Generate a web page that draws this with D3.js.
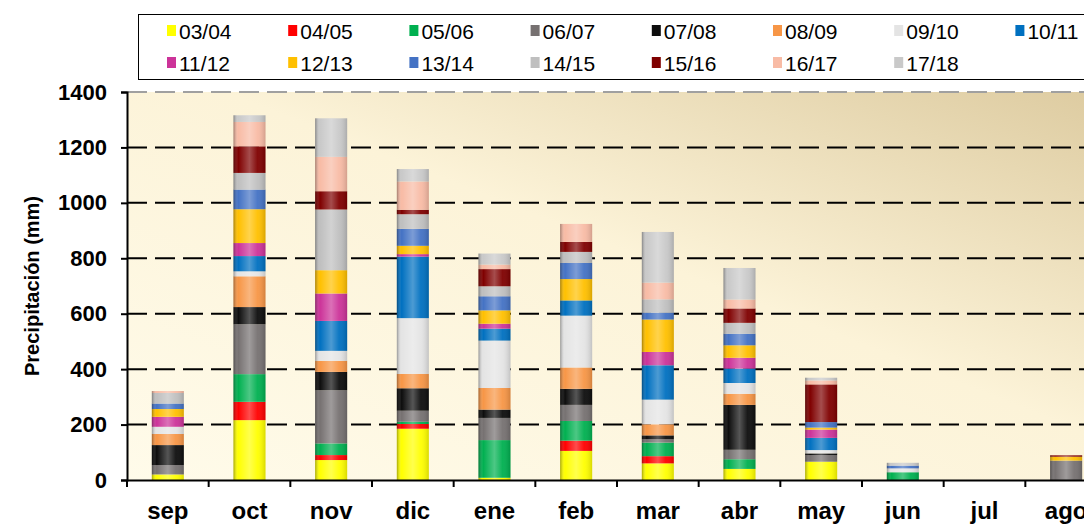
<!DOCTYPE html>
<html>
<head>
<meta charset="utf-8">
<script src="https://cdn.jsdelivr.net/npm/d3@7"></script>
<style>
body { margin: 0; background: #FFFFFF; }
svg { display: block; font-family: "Liberation Sans", Arial, sans-serif; }
</style>
</head>
<body>
<div id="vis_container"></div>
<script>
// months (x categories)
var months = ["sep", "oct", "nov", "dic", "ene", "feb", "mar", "abr", "may", "jun", "jul", "ago"];

// hydrological years (stack series, bottom to top)
var seasons = ["03/04", "04/05", "05/06", "06/07", "07/08", "08/09", "09/10", "10/11",
	"11/12", "12/13", "13/14", "14/15", "15/16", "16/17", "17/18"];

var seasonColors = ["#FFFF00", "#FF0000", "#00B050", "#767171", "#0D0D0D", "#F79646", "#E4E4E4", "#0070C0",
	"#CC3399", "#FFC000", "#4472C4", "#BFBFBF", "#7F0000", "#F8BBA5", "#C9C9C9"];

// precipitation (mm) per season, one value per month sep..ago
var p0304 = [20, 216, 72, 185, 8, 105, 60, 40, 66, 0, 0, 0];
var p0405 = [0, 66, 18, 17, 0, 37, 26, 0, 0, 0, 0, 0];
var p0506 = [0, 100, 42, 8, 136, 71, 49, 35, 0, 28, 0, 0];
var p0607 = [34, 180, 192, 40, 80, 58, 12, 34, 24, 0, 0, 70];
var p0708 = [72, 62, 66, 81, 30, 58, 14, 162, 6, 0, 0, 0];
var p0809 = [40, 111, 40, 52, 78, 77, 40, 40, 0, 0, 0, 0];
var p0910 = [26, 18, 36, 201, 171, 187, 89, 39, 12, 14, 0, 0];
var p1011 = [0, 55, 108, 222, 43, 55, 124, 52, 44, 0, 0, 0];
var p1112 = [36, 47, 99, 9, 18, 0, 48, 39, 30, 0, 0, 0];
var p1213 = [28, 122, 84, 30, 48, 77, 117, 45, 7, 0, 0, 14];
var p1314 = [20, 71, 0, 61, 51, 58, 25, 42, 20, 10, 0, 0];
var p1415 = [38, 60, 219, 53, 36, 40, 48, 39, 0, 0, 0, 0];
var p1516 = [0, 96, 66, 16, 62, 36, 0, 52, 136, 0, 0, 5];
var p1617 = [7, 88, 124, 102, 16, 65, 60, 32, 14, 0, 0, 0];
var p1718 = [0, 24, 139, 45, 40, 0, 183, 114, 10, 10, 0, 0];

var seriesValues = [p0304, p0405, p0506, p0607, p0708, p0809, p0910, p1011,
	p1112, p1213, p1314, p1415, p1516, p1617, p1718];

var yTicks = [0, 200, 400, 600, 800, 1000, 1200, 1400];

var chart = {};
chart.width = 1084;
chart.height = 527;
chart.margin = {"top": 92, "left": 127, "bottom": 47};
chart.plotRight = 1107;

// table for d3.stack
var table = months.map(function(m, i) {
	var row = {month: m};
	seasons.forEach(function(s, j) { row[s] = seriesValues[j][i]; });
	return row;
});

var stacked = d3.stack().keys(seasons)(table);

chart.x = d3.scaleBand()
	.domain(months)
	.range([chart.margin.left, chart.plotRight]);

chart.y = d3.scaleLinear()
	.domain([0, 1400])
	.range([chart.height - chart.margin.bottom, chart.margin.top]);

chart.color = d3.scaleOrdinal().domain(seasons).range(seasonColors);

chart.svg = d3.select("#vis_container").append("svg")
	.attr("width", chart.width)
	.attr("height", chart.height);

var defs = chart.svg.append("defs");

var bg = defs.append("linearGradient")
	.attr("id", "plotBg")
	.attr("x1", 0).attr("y1", 1).attr("x2", 1).attr("y2", 0);
bg.append("stop").attr("offset", "0").attr("stop-color", "#FFFBEA");
bg.append("stop").attr("offset", "0.55").attr("stop-color", "#FCF3D8");
bg.append("stop").attr("offset", "1").attr("stop-color", "#DDCBA0");

// cylinder shading laid over each bar
var shade = defs.append("linearGradient")
	.attr("id", "barShade")
	.attr("x1", 0).attr("y1", 0).attr("x2", 1).attr("y2", 0);
shade.append("stop").attr("offset", "0").attr("stop-color", "#000").attr("stop-opacity", 0.35);
shade.append("stop").attr("offset", "0.15").attr("stop-color", "#fff").attr("stop-opacity", 0);
shade.append("stop").attr("offset", "0.5").attr("stop-color", "#fff").attr("stop-opacity", 0.3);
shade.append("stop").attr("offset", "0.75").attr("stop-color", "#fff").attr("stop-opacity", 0.05);
shade.append("stop").attr("offset", "1").attr("stop-color", "#000").attr("stop-opacity", 0.15);

// plot background
chart.svg.append("rect")
	.attr("x", chart.margin.left)
	.attr("y", chart.y(1400))
	.attr("width", chart.plotRight - chart.margin.left)
	.attr("height", chart.y(0) - chart.y(1400))
	.attr("fill", "url(#plotBg)");

// gridlines
chart.svg.append("g")
	.selectAll("line")
	.data(yTicks.filter(function(d) { return d > 0; }))
	.enter().append("line")
	.attr("x1", chart.margin.left)
	.attr("x2", chart.plotRight)
	.attr("y1", function(d) { return chart.y(d); })
	.attr("y2", function(d) { return chart.y(d); })
	.attr("stroke", function(d) { return d == 1400 ? "#A0A0A0" : "#000"; })
	.attr("stroke-width", 2)
	.attr("stroke-dasharray", "20,8");

var barW = 32;

var layer = chart.svg.append("g")
	.selectAll("g")
	.data(stacked)
	.enter().append("g")
	.attr("fill", function(d) { return chart.color(d.key); });

layer.selectAll("rect")
	.data(function(d) { return d; })
	.enter().append("rect")
	.attr("x", function(d) { return chart.x(d.data.month) + chart.x.bandwidth() / 2 - barW / 2; })
	.attr("y", function(d) { return chart.y(d[1]); })
	.attr("width", barW)
	.attr("height", function(d) { return chart.y(d[0]) - chart.y(d[1]); });

// shading overlay on whole bar
var totals = table.map(function(r) {
	return {month: r.month, total: d3.sum(seasons, function(s) { return r[s]; })};
});
chart.svg.append("g")
	.selectAll("rect")
	.data(totals.filter(function(d) { return d.total > 0; }))
	.enter().append("rect")
	.attr("x", function(d) { return chart.x(d.month) + chart.x.bandwidth() / 2 - barW / 2; })
	.attr("y", function(d) { return chart.y(d.total); })
	.attr("width", barW)
	.attr("height", function(d) { return chart.y(0) - chart.y(d.total); })
	.attr("fill", "url(#barShade)");

// y axis
var yAxis = chart.svg.append("g")
	.attr("transform", "translate(" + chart.margin.left + ",0)")
	.call(d3.axisLeft(chart.y).tickValues(yTicks).tickFormat(d3.format("d")).tickSize(6).tickPadding(14));
yAxis.select(".domain").attr("stroke", "#000").attr("stroke-width", 2);
yAxis.selectAll(".tick line").attr("stroke", "#000").attr("stroke-width", 2);
yAxis.selectAll("text")
	.attr("font-size", 22)
	.attr("font-weight", "bold")
	.attr("fill", "#000")
	.style("font-family", "Liberation Sans, Arial, sans-serif");

// x axis
var xAxis = chart.svg.append("g")
	.attr("transform", "translate(0," + chart.y(0) + ")")
	.call(d3.axisBottom(chart.x).tickSize(0).tickPadding(22));
xAxis.select(".domain").attr("stroke", "#000").attr("stroke-width", 2);
xAxis.selectAll("text")
	.attr("font-size", 24)
	.attr("font-weight", "bold")
	.attr("fill", "#000")
	.style("font-family", "Liberation Sans, Arial, sans-serif");

// category separator ticks
chart.svg.append("g")
	.selectAll("line")
	.data(d3.range(months.length + 1))
	.enter().append("line")
	.attr("x1", function(i) { return chart.margin.left + i * chart.x.step(); })
	.attr("x2", function(i) { return chart.margin.left + i * chart.x.step(); })
	.attr("y1", chart.y(0))
	.attr("y2", chart.y(0) + 7)
	.attr("stroke", "#000")
	.attr("stroke-width", 2);

// y axis title
chart.svg.append("text")
	.attr("transform", "translate(39," + ((chart.y(0) + chart.y(1400)) / 2) + ") rotate(-90)")
	.attr("text-anchor", "middle")
	.attr("font-size", 20)
	.attr("font-weight", "bold")
	.text("Precipitación (mm)");

// legend
var legend = chart.svg.append("g");
legend.append("rect")
	.attr("x", 138.5)
	.attr("y", 14.5)
	.attr("width", 1000)
	.attr("height", 65)
	.attr("fill", "#FFF")
	.attr("stroke", "#000")
	.attr("stroke-width", 1);

var legItem = legend.selectAll("g.item")
	.data(seasons)
	.enter().append("g")
	.attr("class", "item")
	.attr("transform", function(d, i) {
		var col = i % 8, row = Math.floor(i / 8);
		return "translate(" + (167 + col * 121.2) + "," + (31 + row * 32) + ")";
	});
legItem.append("rect")
	.attr("x", 0).attr("y", -6)
	.attr("width", 9).attr("height", 11)
	.attr("fill", function(d) { return chart.color(d); });
legItem.append("text")
	.attr("x", 12)
	.attr("y", 0)
	.attr("dy", "0.36em")
	.attr("font-size", 21)
	.attr("fill", "#000")
	.text(function(d) { return d; });
</script>
</body>
</html>
